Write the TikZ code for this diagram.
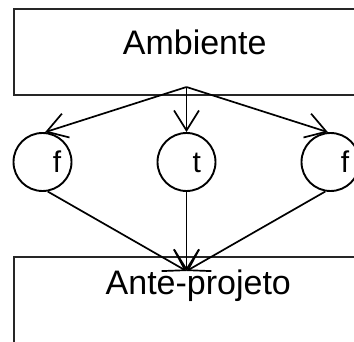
\documentclass[tikz,border=0pt]{standalone}
\usepackage{fontspec}
\setmainfont{Liberation Sans}
\usetikzlibrary{arrows.meta}

\tikzset{
  stage/.style={draw=black!85, line width=2pt, rectangle, inner sep=0pt},
  state/.style={draw=black, line width=1.9pt, circle, minimum size=58pt, inner sep=0pt},
  bigtext/.style={anchor=base, inner sep=0pt, font=\fontsize{34}{40}\selectfont},
  lettertext/.style={anchor=base, inner sep=0pt, font=\fontsize{30}{36}\selectfont},
  flow/.style={line width=1.7pt, -{Straight Barb[length=20pt,width=25pt,line width=1.7pt]}},
}

\begin{document}
\begin{tikzpicture}[x=1pt, y=-1pt]
  \useasboundingbox (0,0) rectangle (354,342);
  \clip (0,0) rectangle (354,342);

  % top and bottom blocks (running off the right/bottom edge)
  \node[stage, minimum width=360pt, minimum height=86pt] (amb) at (194,52) {};
  \node[stage, minimum width=360pt, minimum height=120pt] (ante) at (194,317) {};
  \node[bigtext] (ambtxt) at (194.7,55) {Ambiente};
  \node[bigtext] (antetxt) at (198.3,295) {Ante-projeto};

  % the three intermediate states
  \node[state] (fl) at (42.5,162) {};
  \node[state] (ft) at (186.5,162) {};
  \node[state] (fr) at (330.5,162) {};
  \node[lettertext] (fltxt) at (57,173) {f};
  \node[lettertext] (fttxt) at (196.7,173) {t};
  \node[lettertext] (frtxt) at (345,173) {f};

  % fan-out and fan-in points
  \coordinate (src) at (186.5,87);
  \coordinate (dst) at (186.5,271);

  \draw[flow] (src) -- (fl.85);
  \draw[flow] (src) -- (ft.north);
  \draw[flow] (src) -- (fr.95);

  \draw[flow] (fl.-80) -- (dst);
  \draw[flow] (ft.south) -- (dst);
  \draw[flow] (fr.-100) -- (dst);
\end{tikzpicture}
\end{document}
